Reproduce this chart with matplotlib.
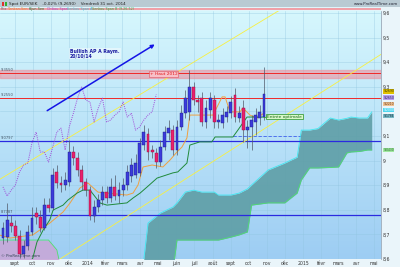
import datetime as dt
import numpy as np
import matplotlib.pyplot as plt
from matplotlib.patches import Rectangle
from matplotlib.colors import LinearSegmentedColormap

# EUR/SEK weekly candles, first week starting 12 Aug 2013
start = dt.date(2013, 8, 12)
opens = [8.685, 8.689, 8.746, 8.734, 8.693, 8.620, 8.653, 8.710, 8.787, 8.771,
         8.726, 8.819, 8.807, 8.954, 8.909, 8.901, 8.913, 9.035, 9.011, 8.962,
         8.913, 8.880, 8.775, 8.811, 8.840, 8.872, 8.848, 8.893, 8.856, 8.880,
         8.901, 8.937, 8.941, 8.950, 9.063, 9.108, 9.043, 9.031, 8.994, 9.055,
         9.112, 9.124, 9.043, 9.137, 9.193, 9.198, 9.299, 9.246, 9.254, 9.157,
         9.206, 9.246, 9.157, 9.153, 9.177, 9.193, 9.267, 9.173, 9.214, 9.124,
         9.137, 9.157, 9.173, 9.177]
highs = [8.750, 8.828, 8.779, 8.759, 8.718, 8.677, 8.738, 8.811, 8.811, 8.799,
         8.848, 8.848, 8.970, 8.982, 8.937, 8.954, 9.084, 9.059, 9.035, 8.982,
         8.929, 8.897, 8.840, 8.864, 8.897, 8.897, 8.929, 8.941, 8.913, 8.929,
         8.982, 9.011, 9.027, 9.092, 9.145, 9.132, 9.063, 9.051, 9.084, 9.141,
         9.165, 9.145, 9.165, 9.226, 9.287, 9.368, 9.319, 9.267, 9.279, 9.246,
         9.279, 9.267, 9.189, 9.214, 9.222, 9.263, 9.295, 9.222, 9.246, 9.165,
         9.185, 9.214, 9.226, 9.380]
lows = [8.661, 8.669, 8.710, 8.677, 8.604, 8.604, 8.637, 8.698, 8.742, 8.710,
        8.718, 8.791, 8.799, 8.889, 8.872, 8.880, 8.897, 8.982, 8.937, 8.880,
        8.856, 8.759, 8.750, 8.791, 8.819, 8.828, 8.832, 8.840, 8.828, 8.856,
        8.880, 8.913, 8.929, 8.937, 9.043, 9.002, 9.011, 8.970, 8.978, 9.043,
        9.084, 9.023, 9.023, 9.124, 9.173, 9.165, 9.226, 9.198, 9.141, 9.132,
        9.173, 9.132, 9.132, 9.132, 9.157, 9.173, 9.157, 9.157, 9.076, 9.051,
        9.043, 9.104, 9.145, 9.165]
closes = [8.726, 8.759, 8.734, 8.693, 8.620, 8.653, 8.710, 8.767, 8.771, 8.726,
          8.819, 8.807, 8.941, 8.909, 8.901, 8.921, 9.035, 9.011, 8.962, 8.913,
          8.880, 8.775, 8.811, 8.840, 8.872, 8.848, 8.893, 8.856, 8.880, 8.901,
          8.954, 8.982, 8.990, 9.072, 9.116, 9.035, 9.035, 8.994, 9.055, 9.116,
          9.132, 9.043, 9.137, 9.193, 9.254, 9.299, 9.246, 9.238, 9.157, 9.214,
          9.254, 9.157, 9.165, 9.185, 9.198, 9.238, 9.177, 9.193, 9.124, 9.137,
          9.165, 9.185, 9.198, 9.269]

# Tenkan-Sen (week index, price)
tenkan_w = [-1, 1.7, 7.2, 11.3, 14.5, 16.2, 18.6, 20.5, 22.9, 25.1, 29.9, 31.4,
            32.6, 33.8, 36.0, 38.6, 40.3, 42.0, 43.2, 44.4, 45.1, 48.0, 50.7,
            52.9, 53.6, 54.8, 57.2, 57.9, 59.6, 61.3, 63.0]
tenkan = [8.698, 8.685, 8.698, 8.746, 8.791, 8.828, 8.889, 8.909, 8.872, 8.868,
          8.860, 8.868, 8.901, 8.974, 8.982, 8.974, 9.002, 9.035, 9.055, 9.092,
          9.185, 9.185, 9.185, 9.259, 9.259, 9.198, 9.198, 9.214, 9.185, 9.173,
          9.193]
# Kijun-Sen
kijun_w = [-1, 6.5, 7.2, 8.2, 9.7, 11.3, 12.1, 14.5, 15.7, 17.9, 19.3, 21.0,
           23.4, 25.1, 29.9, 31.4, 33.1, 34.8, 37.2, 41.0, 42.2, 44.4, 45.1,
           47.5, 50.4, 51.2, 55.5, 56.7, 58.9, 63.0]
kijun = [8.575, 8.587, 8.604, 8.669, 8.718, 8.759, 8.799, 8.819, 8.840, 8.868,
         8.880, 8.880, 8.828, 8.819, 8.828, 8.848, 8.868, 8.893, 8.929, 8.950,
         8.954, 8.990, 9.063, 9.076, 9.076, 9.096, 9.096, 9.124, 9.177, 9.177]
# Senkou spans (cloud), projected 26 weeks ahead
cloud_w = [-1, 11, 13, 14, 33, 34, 35, 38, 41, 42, 44, 46, 48, 51, 52, 55, 57,
           59, 60, 64, 68, 71, 72, 74, 76, 79, 81, 83, 84, 86, 88, 89]
span_a = [8.55, 8.55, 8.55, 8.55, 8.56, 8.60, 8.746, 8.787, 8.811, 8.828, 8.872,
          8.880, 8.872, 8.872, 8.860, 8.860, 8.868, 8.885, 8.901, 8.962, 8.990,
          9.014, 9.124, 9.124, 9.130, 9.173, 9.165, 9.172, 9.177, 9.173, 9.173,
          9.198]
span_b = [8.677, 8.677, 8.637, 8.56, 8.56, 8.55, 8.55, 8.55, 8.55, 8.677, 8.677,
          8.677, 8.677, 8.677, 8.677, 8.689, 8.698, 8.710, 8.819, 8.828, 8.828,
          8.868, 8.921, 8.970, 8.970, 8.972, 8.974, 9.031, 9.035, 9.037, 9.043,
          9.043]

# trend channel end points (week index, price)
channel_hi = ([-10, 80], [8.830, 9.746])
channel_lo = ([8, 95], [8.538, 9.472])
levels_red = [9.355, 9.255]
levels_blue = [9.0797, 8.7787]
haut_2012 = (9.335, 9.370)
entry_level = 9.10

month_labels = ['sept', 'oct', 'nov', 'déc', '2014', 'févr', 'mars', 'avr', 'mai',
                'juin', 'juil', 'août', 'sept', 'oct', 'nov', 'déc', '2015', 'févr',
                'mars', 'avr', 'mai']

W, H = 400, 267
fig = plt.figure(figsize=(4, 2.67), dpi=100, facecolor='#eaf5fa')
ax = fig.add_axes([0, 8 / H, 381 / W, 248 / H])
ax.set_xlim(-0.72, 91.24)
ax.set_ylim(8.60, 9.608)

# background gradient
grad = np.linspace(0, 1, 256).reshape(-1, 1)
bg = LinearSegmentedColormap.from_list('bg', ['#9dcdf3', '#d6f7fd'])
ax.imshow(grad, aspect='auto', cmap=bg, origin='lower',
          extent=[-0.72, 91.24, 8.60, 9.608], zorder=0)

# month ticks
months = []
y, m = 2013, 9
for _ in month_labels:
    months.append((dt.date(y, m, 1) - start).days / 7)
    m += 1
    if m > 12:
        m, y = 1, y + 1
ax.set_xticks(months)
ax.set_xticklabels(month_labels)
yt = np.arange(8.6, 9.61, 0.1)
ylabels = [('%.1f' % v).rstrip('0').rstrip('.').replace('.', ',') for v in yt]
ylabels[6] = ''  # 9,2 sits under the value tags
ax.set_yticks(yt)
ax.set_yticklabels(ylabels)
ax.yaxis.tick_right()
ax.tick_params(length=0, labelsize=3.3, colors='#333333', pad=1.5)
ax.grid(color='#8fc3de', lw=0.4, alpha=0.6, zorder=1)
for s in ['top', 'left', 'bottom']:
    ax.spines[s].set_visible(False)
ax.spines['right'].set_color('#8899aa')
ax.spines['right'].set_linewidth(0.5)

# cloud
cw = np.array(cloud_w)
sa = np.array(span_a)
sb = np.array(span_b)
ax.fill_between(cw, sa, sb, where=sa >= sb, interpolate=True, color='#5e9ea6', alpha=0.9, zorder=2, lw=0)
ax.fill_between(cw, sa, sb, where=sa < sb, interpolate=True, color='#c8a8d8', alpha=0.9, zorder=2, lw=0)
ax.plot(cw, sa, color='#3ee8f0', lw=0.6, zorder=3)
ax.plot(cw, sb, color='#50e070', lw=0.6, zorder=3)

# horizontal levels
ax.axhspan(*haut_2012, color='#f08c98', alpha=0.55, zorder=2)
for lv in levels_red:
    ax.axhline(lv, color='#f02828', lw=0.7, zorder=3)
for lv in levels_blue:
    ax.axhline(lv, color='#2a2ae0', lw=0.9, zorder=3)
ax.plot([55.5, 71.7], [entry_level, entry_level], color='#4060f0', lw=0.6, ls=(0, (4, 2)), zorder=3)

# channel
ax.plot(*channel_hi, color='#f8f040', lw=0.6, zorder=3)
ax.plot(*channel_lo, color='#f8f040', lw=0.6, zorder=3)

# chikou span = closes shifted 26 weeks back
wk = np.arange(len(closes))
ax.plot(wk[26:] - 26, closes[26:], color='#a048d8', lw=0.7, ls=(0, (1, 1.2)), zorder=4)
ax.plot(tenkan_w, tenkan, color='#f0a040', lw=0.7, zorder=4)
ax.plot(kijun_w, kijun, color='#1f8a3a', lw=0.7, zorder=4)

# candles
o, h, l, c = map(np.array, (opens, highs, lows, closes))
up = c >= o
ax.vlines(wk, l, h, color='#505868', lw=0.5, zorder=5)
body = np.maximum(np.abs(c - o), 0.003)
ax.bar(wk, body, bottom=np.minimum(o, c), width=0.7,
       color=np.where(up, '#3b3bdc', '#e8206c'), edgecolor=np.where(up, '#1c1c80', '#901040'),
       lw=0.3, zorder=6)

# annotations
ax.annotate('', xy=(37.2, 9.478), xytext=(10.1, 9.197),
            arrowprops=dict(arrowstyle='-|>', color='#1414e6', lw=1.1, mutation_scale=5), zorder=7)
ax.text(16.2, 9.455, 'Bullish AP A Raym.\n20/10/14', fontsize=3.3, color='#1a1aa0',
        fontweight='bold', va='top', ha='left', linespacing=1.0,
        bbox=dict(facecolor='white', alpha=0.45, lw=0, pad=0.6), zorder=7)
ax.text(35.4, 9.352, '+ Haut 2012', fontsize=3.2, color='#e01818', va='center', ha='left',
        bbox=dict(facecolor='#f8c0c8', edgecolor='#e05060', lw=0.4, pad=0.5), zorder=7)
ax.plot([63, 63.8], [9.179, 9.179], color='#30a030', lw=0.6, zorder=7)
ax.text(63.8, 9.179, 'Entrée optimale', fontsize=3.2, color='#1a6a1a', va='center', ha='left',
        bbox=dict(facecolor='#d8f8c8', edgecolor='#40a040', lw=0.6, pad=0.6), zorder=7)

for lv, txt in [(9.355, '9,3550'), (9.255, '9,2550'), (9.0797, '9,0797'), (8.7787, '8,7787')]:
    ax.text(-0.5, lv + 0.004, txt, fontsize=2.6, color='#445566', va='bottom', ha='left', zorder=7)
ax.text(-0.5, 8.605, '© ProRealTime.com', fontsize=2.8, color='#334455', va='bottom', ha='left', zorder=7)

# right-side value tags
tags = [(9.281, '9,2690', '#e0c000', '#333300'), (9.256, '9,2650', '#b8a0f0', '#202060'),
        (9.231, '9,2210', '#f0c090', '#604020'), (9.206, '9,2000', '#50d8f0', '#ffffff'),
        (9.181, '9,1784', '#78b8c4', '#103040'), (9.043, '9,0430', '#a0e8a0', '#206020')]
for v, txt, fc, tc in tags:
    ax.text(91.8, v, txt, fontsize=2.2, color=tc, va='center', ha='left', clip_on=False,
            bbox=dict(facecolor=fc, edgecolor='none', pad=0.15), zorder=8)

# header bar and indicator legend row
fig.patches.append(Rectangle((0, 1 - 7 / H), 1, 7 / H, transform=fig.transFigure,
                             facecolor='#b9cad3', edgecolor='none'))
fig.patches.append(Rectangle((0, 1 - 11 / H), 381 / W, 4 / H, transform=fig.transFigure,
                             facecolor='#dff5fb', edgecolor='none'))
fig.patches.append(Rectangle((0, 1 - 9.5 / H), 381 / W, 1.6 / H, transform=fig.transFigure,
                             facecolor='#f0a0a8', edgecolor='none'))
fig.patches.append(Rectangle((2 / W, 1 - 6 / H), 2 / W, 4 / H, transform=fig.transFigure,
                             facecolor='#e03030', edgecolor='none'))
fig.patches.append(Rectangle((4.5 / W, 1 - 6 / H), 2 / W, 4 / H, transform=fig.transFigure,
                             facecolor='#30b030', edgecolor='none'))
fig.text(9 / W, 1 - 3.6 / H, 'Spot EUR/SEK    -0,02% (9,2690)    Vendredi 31 oct. 2014',
         fontsize=3.0, color='#202020', va='center', ha='left')
fig.text(398 / W, 1 - 3.6 / H, 'www.ProRealTime.com', fontsize=2.8, color='#202030',
         va='center', ha='right')
legend_items = [('Prix', '#707070', 0.5), ('Tenkan-Sen', '#e09030', 8),
                ('Kijun-Sen', '#208040', 29), ('Chikou Span', '#a050d0', 47),
                ('Senkou Span A', '#30c8e0', 67), ('Senkou Span B (9,26,52)', '#30b050', 92)]
for txt, col, px in legend_items:
    fig.text(px / W, 1 - 9.2 / H, txt, fontsize=2.4, color=col, va='center', ha='left')

fig.savefig('out.png', dpi=100, facecolor=fig.get_facecolor())
